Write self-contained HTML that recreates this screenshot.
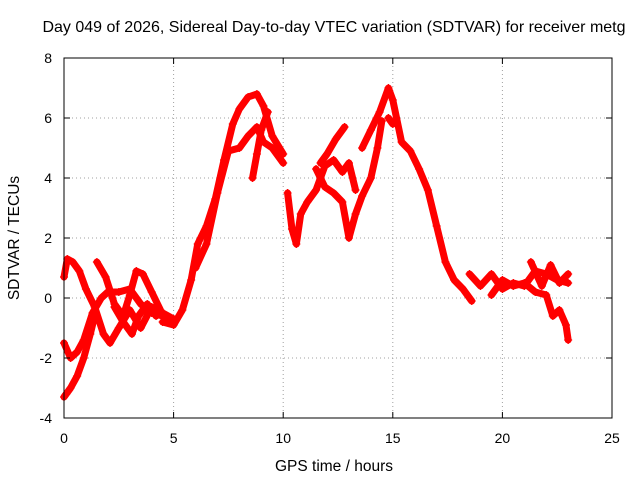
<!DOCTYPE html>
<html><head><meta charset="utf-8"><style>
body{margin:0;background:#fff}
svg{display:block;font-family:"Liberation Sans",sans-serif}
</style></head><body>
<svg id="chart" width="640" height="480">
<text x="334" y="32" font-size="16" text-anchor="middle">Day 049 of 2026, Sidereal Day-to-day VTEC variation (SDTVAR) for receiver metg</text>
<text x="334" y="471" font-size="15.5" text-anchor="middle">GPS time / hours</text>
<text transform="translate(19,238) rotate(-90)" font-size="15.5" text-anchor="middle">SDTVAR / TECUs</text>
<g id="grid"></g><g id="marks"></g><g id="axes"></g>
</svg>
<script>
const xTicks=[0,5,10,15,20,25];
const yTicks=[-4,-2,0,2,4,6,8];
const trackA_t=[0,0.1,0.3,0.6,0.9,1.2,1.4];
const trackA_v=[-3.3,-3.2,-3.0,-2.6,-2.0,-1.2,-0.6];
const trackB_t=[0,0.3,0.6,0.9,1.3,1.7,2.0,2.5,3.0,3.5,4.0,4.5,5.0];
const trackB_v=[-1.5,-2.0,-1.8,-1.4,-0.5,0.0,0.2,0.2,0.3,-0.2,-0.5,-0.6,-0.8];
const trackC_t=[0,0.15,0.4,0.7,1.0,1.4,1.8,2.1,2.5,3.0,3.5,4.0,4.5,5.0];
const trackC_v=[0.7,1.3,1.2,0.9,0.3,-0.3,-1.2,-1.5,-1.0,-0.4,-1.0,-0.3,-0.5,-0.7];
const trackD_t=[1.5,1.9,2.3,2.7,3.0,3.3,3.6,4.0,4.4];
const trackD_v=[1.2,0.7,-0.2,-0.6,0.1,0.9,0.8,0.2,-0.4];
const trackE_t=[2.3,2.7,3.1,3.4,3.8,4.2];
const trackE_v=[-0.3,-0.8,-1.2,-0.6,-0.2,-0.6];
const trackF_t=[4.5,5.0,5.4,5.8,6.1,6.5,6.9,7.3,7.7,8.0,8.4,8.8,9.1,9.5,10.0];
const trackF_v=[-0.8,-0.9,-0.4,0.6,1.8,2.4,3.3,4.6,5.8,6.3,6.7,6.8,6.4,5.4,4.8];
const trackG_t=[6.0,6.5,7.0,7.5,8.0,8.4,8.8,9.1,9.5,10.0];
const trackG_v=[1.0,1.8,3.5,4.9,5.0,5.4,5.7,5.2,5.0,4.5];
const trackH_t=[8.6,8.8,9.0,9.3];
const trackH_v=[4.0,4.8,5.6,6.2];
const trackI_t=[10.2,10.4,10.6,10.8,11.1,11.5,11.9,12.3,12.7,13.0,13.3];
const trackI_v=[3.5,2.3,1.8,2.8,3.2,3.6,4.4,4.6,4.2,4.5,3.6];
const trackJ_t=[11.5,11.9,12.3,12.7,13.0,13.3,13.6,14.0,14.3,14.5];
const trackJ_v=[4.3,3.7,3.5,3.2,2.0,2.8,3.4,4.0,5.0,5.9];
const trackK_t=[11.7,12.0,12.4,12.8];
const trackK_v=[4.5,4.8,5.3,5.7];
const trackL_t=[13.6,14.0,14.4,14.8,15.0,15.4,15.8,16.2,16.6,17.0,17.4,17.8,18.2,18.6];
const trackL_v=[5.0,5.6,6.2,7.0,6.6,5.2,4.9,4.3,3.6,2.4,1.2,0.6,0.3,-0.1];
const trackM_t=[14.8,15.0];
const trackM_v=[6.0,5.8];
const trackN_t=[18.5,19.0,19.5,20.0,20.5,21.0,21.5,22.0,22.5,23.0];
const trackN_v=[0.8,0.4,0.8,0.3,0.5,0.4,0.9,0.8,0.6,0.5];
const trackO_t=[19.5,20.0,20.5,21.0,21.5,22.0,22.3,22.6,22.9,23.0];
const trackO_v=[0.1,0.6,0.4,0.5,0.2,0.1,-0.6,-0.4,-0.9,-1.4];
const trackP_t=[21.3,21.8,22.2,22.6,23.0];
const trackP_v=[1.2,0.4,1.1,0.5,0.8];
const tracks=[[trackA_t,trackA_v],[trackB_t,trackB_v],[trackC_t,trackC_v],[trackD_t,trackD_v],[trackE_t,trackE_v],[trackF_t,trackF_v],[trackG_t,trackG_v],[trackH_t,trackH_v],[trackI_t,trackI_v],[trackJ_t,trackJ_v],[trackK_t,trackK_v],[trackL_t,trackL_v],[trackM_t,trackM_v],[trackN_t,trackN_v],[trackO_t,trackO_v],[trackP_t,trackP_v]];
const X0=64,X1=612,Y0=418,Y1=58;
const xs=v=>X0+(v-0)/(25-0)*(X1-X0);
const ys=v=>Y0-(v+4)/12*(Y0-Y1);
const NS="http://www.w3.org/2000/svg";
function mk(tag,attrs,parent){const e=document.createElementNS(NS,tag);for(const k in attrs)e.setAttribute(k,attrs[k]);parent.appendChild(e);return e;}
const grid=document.getElementById('grid'),axes=document.getElementById('axes'),marks=document.getElementById('marks');
xTicks.forEach(t=>{const x=xs(t);
 if(t>0&&t<25){const g=mk('line',{x1:x,x2:x,y1:Y1,y2:Y0,stroke:'#a0a0a0','stroke-dasharray':'1,3'},grid);}
 mk('line',{x1:x,x2:x,y1:Y0,y2:Y0-6,stroke:'#000'},axes);mk('line',{x1:x,x2:x,y1:Y1,y2:Y1+6,stroke:'#000'},axes);
 const l=mk('text',{x:x,y:443,'font-size':14,'text-anchor':'middle'},axes);l.textContent=t;
 
 });
yTicks.forEach(t=>{const y=ys(t);
 if(t>-4&&t<8){const g=mk('line',{x1:X0,x2:X1,y1:y,y2:y,stroke:'#a0a0a0','stroke-dasharray':'1,3'},grid);}
 mk('line',{x1:X0,x2:X0+6,y1:y,y2:y,stroke:'#000'},axes);mk('line',{x1:X1,x2:X1-6,y1:y,y2:y,stroke:'#000'},axes);
 const l=mk('text',{x:52,y:y+5,'font-size':14,'text-anchor':'end'},axes);l.textContent=t;
 
 });
const b=mk('rect',{x:X0,y:Y1,width:X1-X0,height:Y0-Y1,fill:'none',stroke:'#000'},axes);


tracks.forEach(([T,V],i)=>{
 const pts=T.map((t,j)=>xs(t)+','+ys(V[j])).join(' ');
 const pl=mk('polyline',{points:pts,fill:'none',stroke:'#f00','stroke-width':7,'stroke-linejoin':'round','stroke-linecap':'round'},marks);
 
 
 T.forEach((t,j)=>{const x=xs(t),y=ys(V[j]);
  const p=mk('path',{d:`M${x-4},${y}h8M${x},${y-4}v8`,stroke:'#f00','stroke-width':1.2},marks);
  
  });
});
</script>
</body></html>
